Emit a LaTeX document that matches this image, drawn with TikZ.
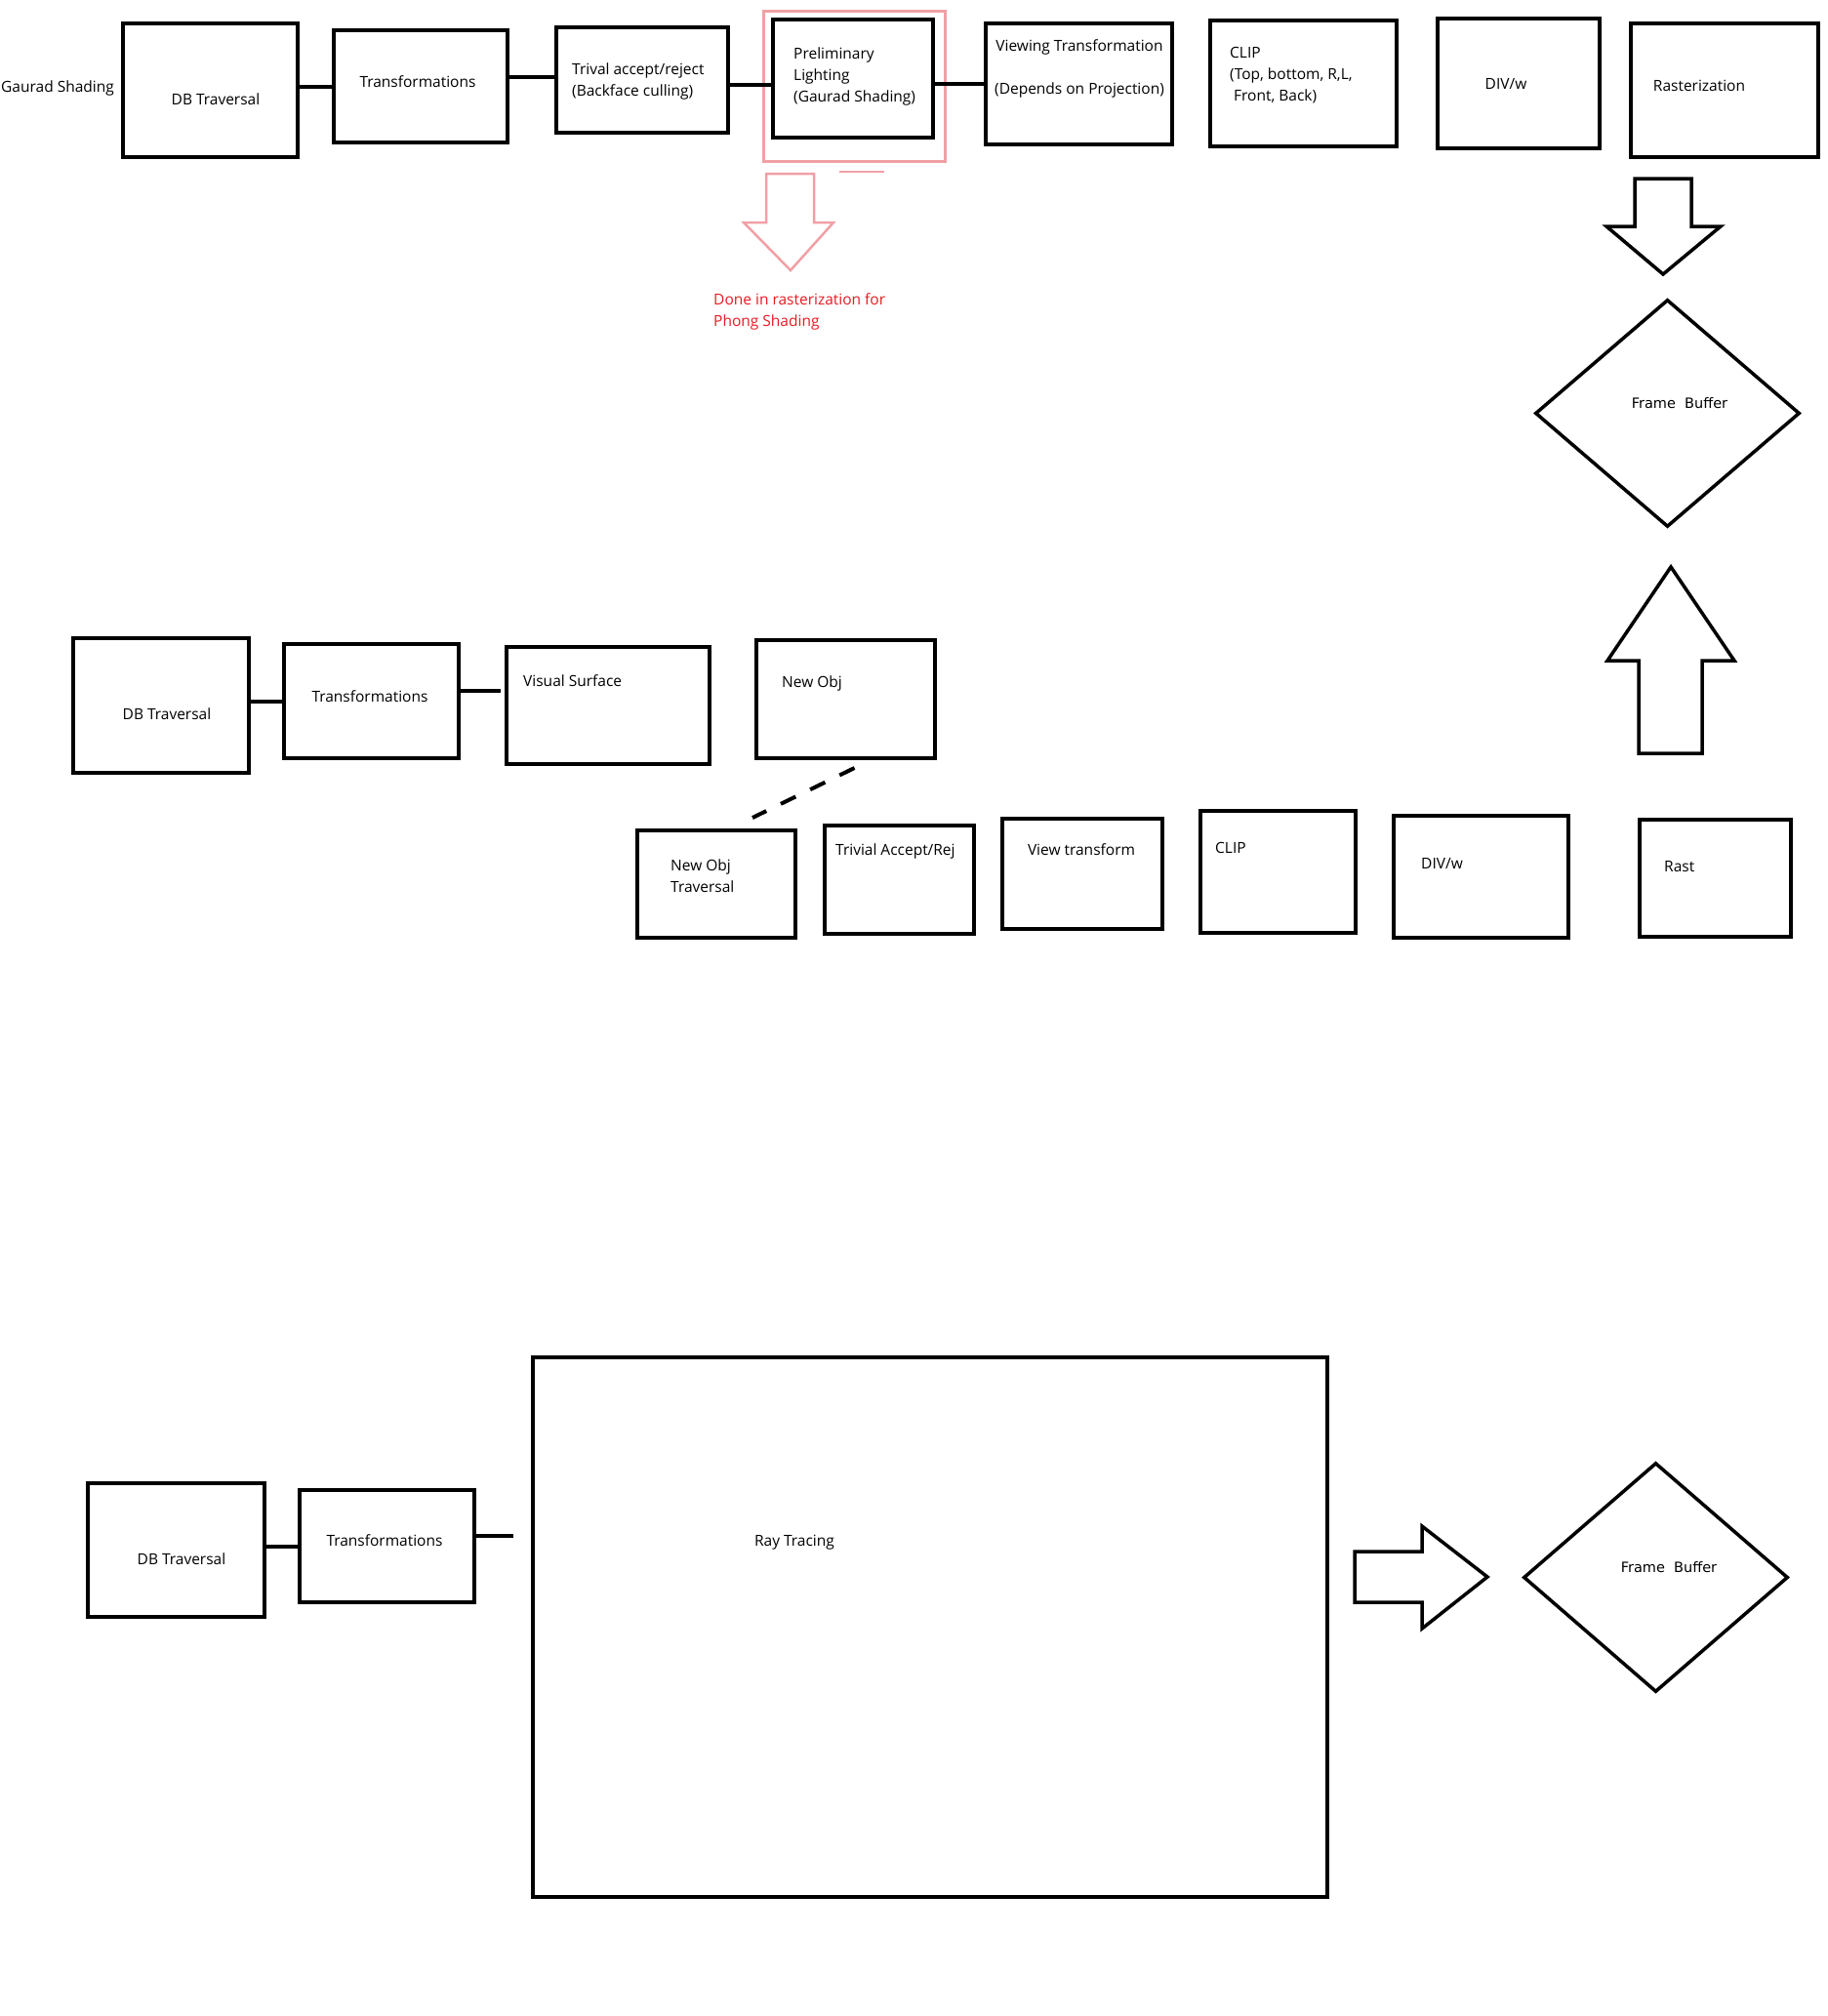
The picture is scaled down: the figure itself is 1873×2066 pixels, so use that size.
\documentclass[tikz,border=0pt]{standalone}
\usepackage{fontspec}
\setmainfont{Open Sans}
\newfontfamily\fbfont{DejaVu Sans}
\usetikzlibrary{shapes.geometric}
\definecolor{notered}{RGB}{232,28,36}
\definecolor{notepink}{RGB}{240,160,165}

\begin{document}
\begin{tikzpicture}[x=1pt,y=-1pt,
  box/.style={draw,rectangle,line width=4pt,inner sep=0pt},
  fb node/.style={draw,diamond,line width=3.5pt,inner sep=0pt,minimum width=271pt},
  txt/.style={font=\fontsize{15.5}{22}\selectfont,inner sep=0pt,align=left},
  fb txt/.style={font=\fbfont\fontsize{14.5}{17}\selectfont,inner sep=0pt,anchor=base},
  conn/.style={draw,line width=4pt},
  dash conn/.style={draw,line width=4pt,dash pattern=on 17pt off 16.5pt},
  block arrow/.style={draw,line width=3.5pt,line join=miter}]

  \useasboundingbox[fill=white] (0,0) rectangle (1873,2066);

      \node[box, minimum width=179pt, minimum height=137pt] at (215.5,92.5) (db1) {};
      \node[box, minimum width=178pt, minimum height=115pt] at (431,88.5) (tr1) {};
      \node[box, minimum width=176pt, minimum height=108pt] at (658,82) (triv1) {};
      \node[draw=notepink, line width=2.5pt, minimum width=186pt, minimum height=154pt] at (875.5,88.5) (pink1) {};
      \node[box, minimum width=164pt, minimum height=121pt] at (874,80.5) (pre1) {};
      \node[box, minimum width=191pt, minimum height=124pt] at (1105.5,86) (view1) {};
      \node[box, minimum width=191pt, minimum height=129pt] at (1335.5,85.5) (clip1) {};
      \node[box, minimum width=166pt, minimum height=133pt] at (1556,85.5) (div1) {};
      \node[box, minimum width=192pt, minimum height=137pt] at (1767,92.5) (rast1) {};
      \node[fb node, minimum height=233pt] at (1708.5,423.5) (fb1) {};

      \node[txt, anchor=base west] at (1,94.5) (gs) {Gaurad Shading};
      \node[txt, anchor=base] at (221,107.5) (db1t) {DB Traversal};
      \node[txt, anchor=base] at (428,89.5) (tr1t) {Transformations};
      \node[txt, anchor=base west] at (586,98.5) (triv1t) {Trival accept/reject\\(Backface culling)};
      \node[txt, anchor=base west] at (813,104.5) (pre1t) {Preliminary\\Lighting\\(Gaurad Shading)};
      \node[txt, anchor=base west, text=notered] at (731,334.5) (note1) {Done in rasterization for\\Phong Shading};
      \node[txt, anchor=base, align=center] at (1106,96.5) (view1t) {Viewing Transformation\\[22pt](Depends on Projection)};
      \node[txt, anchor=base west] at (1260,103.5) (clip1t) {CLIP\\(Top, bottom, R,L,\\\hspace*{4pt}Front, Back)};
      \node[txt, anchor=base] at (1543,91.5) (div1t) {DIV/w};
      \node[txt, anchor=base] at (1741,93.5) (rast1t) {Rasterization};
      \node[fb txt] at (1721,418.6) (fb1t) {Frame~~Buffer};

      \node[box, minimum width=180pt, minimum height=138pt] at (165,723) (db2) {};
      \node[box, minimum width=179pt, minimum height=117pt] at (380.5,718.5) (tr2) {};
      \node[box, minimum width=208pt, minimum height=120pt] at (623,723) (vis2) {};
      \node[box, minimum width=183pt, minimum height=121pt] at (866.5,716.5) (new2) {};
      \node[box, minimum width=162pt, minimum height=110pt] at (734,906) (newt2) {};
      \node[box, minimum width=153pt, minimum height=111pt] at (921.5,901.5) (triv2) {};
      \node[box, minimum width=164pt, minimum height=113pt] at (1109,895.5) (view2) {};
      \node[box, minimum width=159pt, minimum height=125pt] at (1309.5,893.5) (clip2) {};
      \node[box, minimum width=179pt, minimum height=125pt] at (1517.5,898.5) (div2) {};
      \node[box, minimum width=155pt, minimum height=120pt] at (1757.5,900) (rast2) {};

      \node[txt, anchor=base] at (171,737.5) (db2t) {DB Traversal};
      \node[txt, anchor=base] at (379,719.5) (tr2t) {Transformations};
      \node[txt, anchor=base west] at (536,703.5) (vis2t) {Visual Surface};
      \node[txt, anchor=base west] at (801,704.5) (new2t) {New Obj};
      \node[txt, anchor=base west] at (687,914.5) (newt2t) {New Obj\\Traversal};
      \node[txt, anchor=base west] at (856,876.5) (triv2t) {Trivial Accept/Rej};
      \node[txt, anchor=base] at (1108,876.5) (view2t) {View transform};
      \node[txt, anchor=base west] at (1245,874.5) (clip2t) {CLIP};
      \node[txt, anchor=base west] at (1456,890.5) (div2t) {DIV/w};
      \node[txt, anchor=base west] at (1705,893.5) (rast2t) {Rast};

      \node[box, minimum width=181pt, minimum height=137pt] at (180.5,1588.5) (db3) {};
      \node[box, minimum width=179pt, minimum height=115pt] at (396.5,1584.5) (tr3) {};
      \node[box, minimum width=814pt, minimum height=553pt] at (953,1667.5) (ray3) {};
      \node[fb node, minimum height=235pt] at (1696.5,1616.5) (fb3) {};

      \node[txt, anchor=base] at (186,1603.5) (db3t) {DB Traversal};
      \node[txt, anchor=base] at (394,1584.5) (tr3t) {Transformations};
      \node[txt, anchor=base] at (814,1584.5) (ray3t) {Ray Tracing};
      \node[fb txt] at (1710,1611.6) (fb3t) {Frame~~Buffer};

      \coordinate (j1) at ([yshift=10pt]tr1.east);
      \coordinate (j2) at ([yshift=-5pt]triv1.east);
      \coordinate (vsin) at (513,708);
      \coordinate (rtin) at (526,1574);

      \path
      (tr1.west -| db1.east) edge[conn] (tr1.west)
      (j1) edge[conn] (j1 -| triv1.west)
      (j2) edge[conn] (j2 -| pre1.west)
      (view1.west -| pre1.east) edge[conn] (view1.west)
      (tr2.west -| db2.east) edge[conn] (tr2.west)
      (tr2.east |- vsin) edge[conn] (vsin)
      ([xshift=9pt,yshift=-8pt]new2.south) edge[dash conn] ([xshift=37pt,yshift=11pt]newt2.north)
      (tr3.west -| db3.east) edge[conn] (tr3.west)
      (tr3.east |- rtin) edge[conn] (rtin)
      ;

      \draw[block arrow] (1675,183) -- (1733,183) -- (1733,232) -- (1763,232) -- (1704,281) -- (1646,232) -- (1675,232) -- cycle;
      \draw[block arrow] (1679,772) -- (1744,772) -- (1744,677) -- (1777,677) -- (1712,581) -- (1647,677) -- (1679,677) -- cycle;
      \draw[block arrow] (1388,1590) -- (1457,1590) -- (1457,1564) -- (1524,1616) -- (1457,1669) -- (1457,1642) -- (1388,1642) -- cycle;
      \draw[block arrow, draw=notepink, line width=2.5pt] (785,178) -- (834,178) -- (834,228) -- (854,228) -- (810,277) -- (762,228) -- (785,228) -- cycle;
      \draw[notepink, line width=2.5pt] (860,176) -- (906,176);

    \end{tikzpicture}
\end{document}
